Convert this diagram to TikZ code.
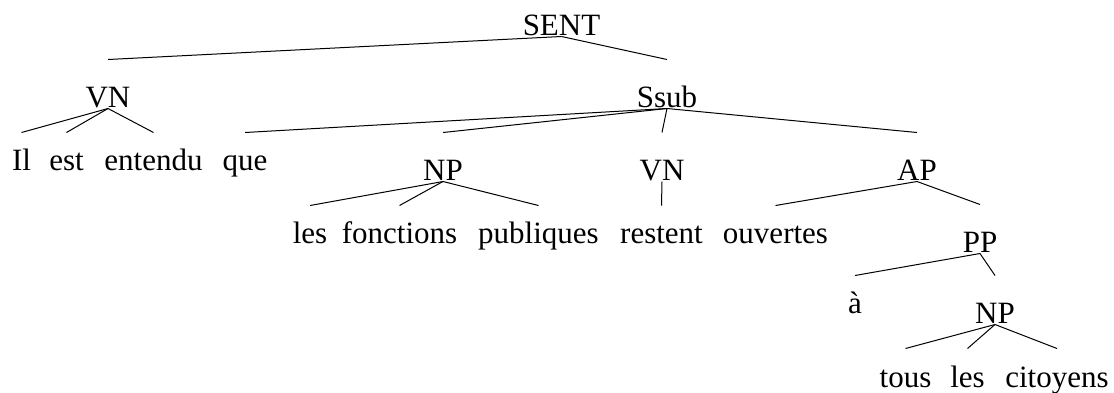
\documentclass[tikz,border=0pt]{standalone}
\usepackage{fontspec}
\setmainfont{Liberation Serif}
\usetikzlibrary{calc}

\begin{document}
\begin{tikzpicture}[x=1pt,y=-1pt,line width=1pt,
    font=\fontsize{31}{37}\selectfont,
    cat/.style={inner sep=0pt,anchor=base,text height=47pt,text depth=1pt},
    word/.style={inner sep=0pt,anchor=base,text height=37pt,text depth=0pt}]
  \useasboundingbox (0,0) rectangle (1114,392);
  % Define nodes
  \node[cat] (SENT) at (561.5,35) {SENT};
  \node[cat] (VNa) at (108,107) {VN};
  \node[cat] (Ssub) at (667,107) {Ssub};
  \node[word] (Il) at (21.5,170) {Il};
  \node[word] (est) at (66.5,170) {est};
  \node[word] (entendu) at (153.5,170) {entendu};
  \node[word] (que) at (245,170) {que};
  \node[cat] (NPa) at (443,180) {NP};
  \node[cat] (VNb) at (662,180) {VN};
  \node[cat] (AP) at (917,180) {AP};
  \node[word] (les) at (310,243) {les};
  \node[word] (fonctions) at (399.5,243) {fonctions};
  \node[word] (publiques) at (538.5,243) {publiques};
  \node[word] (restent) at (661.5,243) {restent};
  \node[word] (ouvertes) at (775.5,243) {ouvertes};
  \node[cat] (PP) at (980,252) {PP};
  \node[word] (a) at (855,313) {à};
  \node[cat] (NPb) at (995,323) {NP};
  \node[word,text height=38pt] (tous) at (905.5,387) {tous};
  \node[word,text height=38pt] (lesb) at (967.5,387) {les};
  \node[word,text height=38pt] (citoyens) at (1057,387) {citoyens};

  % Draw edges
  \draw (SENT.south) -- (VNa.north);
  \draw (SENT.south) -- (Ssub.north);
  \draw (VNa.south) -- (Il.north);
  \draw (VNa.south) -- (est.north);
  \draw (VNa.south) -- (entendu.north);
  \draw (Ssub.south) -- (que.north);
  \draw (Ssub.south) -- (NPa.north);
  \draw (Ssub.south) -- (VNb.north);
  \draw (Ssub.south) -- (AP.north);
  \draw (NPa.south) -- (les.north);
  \draw (NPa.south) -- (fonctions.north);
  \draw (NPa.south) -- (publiques.north);
  \draw (VNb.south) -- (restent.north);
  \draw (AP.south) -- (ouvertes.north);
  \draw (AP.south) -- (PP.north);
  \draw (PP.south) -- (a.north);
  \draw (PP.south) -- (NPb.north);
  \draw (NPb.south) -- (tous.north);
  \draw (NPb.south) -- (lesb.north);
  \draw (NPb.south) -- (citoyens.north);
\end{tikzpicture}
\end{document}
